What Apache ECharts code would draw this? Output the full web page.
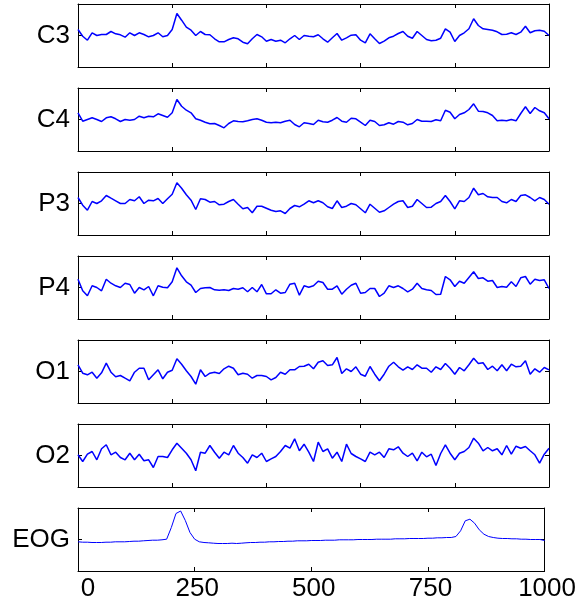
<!DOCTYPE html>
<html><head><meta charset="utf-8">
<script src="https://cdn.jsdelivr.net/npm/echarts@6/dist/echarts.min.js"></script>
<style>html,body{margin:0;padding:0;background:#fff}#c{width:579px;height:607px}</style>
</head><body><div id="c"></div>
<script>
const channels = ['C3', 'C4', 'P3', 'P4', 'O1', 'O2', 'EOG'];
const sampleStep = 10; // samples between stored readings
const eogTickLabels = [0, 250, 500, 750, 1000];

const c3 = [6,-0.7,-4.7,2.7,0,1,1,4,1.7,0.7, -1.7,2.7,0,2.7,1,-1.3,0,2.7,-1.3,0, 6,22,15.3,8.3,5.3,0,4,1,0.7,-3.3, -6.3,-6.3,-4,-2.3,-3.3,-6.7,-8.3,-3.3,1,-1.3, -5.7,-4,-5.7,-4.7,-7.3,-3.3,0,-4,0,-0.7, -1.3,0.7,
  -3.3,-6.7,-2.3,2,-4.7,-2.3,0.3,0.7,-4.7,-7.3, 1.7,-3.3,-8,-5.7,-2.3,-0.7,2,4,-0.7,-2.7, 4,0,-4,-5.3,-4.7,-2.7,6.7,3.3,-6,0, 2.7,6.7,16.7,10,6.7,6,5.3,3.7,1,1.3, 2.7,1,3.3,9.3,2.7,4.7,5.3,4.3,0];
const c4 = [6.7,-1.7,0,1.7,0,-2,1.7,2.7,0.7,-2, 0,-0.7,0,3.3,1.7,3.3,2.7,5.7,4,2.3, 6.7,20,13.3,9.3,6.7,0.7,-0.7,-2.7,-4.3,-4, -6,-8.3,-4,-1.3,-2,-2.3,-1.3,0,0.7,-0.7, -2.7,-3.3,-2.7,-3.3,-1.7,-0.7,-5,-7.3,-3.3,-4, -5,-0.7,
  -2.3,-2.7,-0.7,2,-1.7,-2.7,1.3,0.7,-2.7,-6, -0.7,-2,-6,-5.3,-3.3,-4.7,-2,-2.7,-5.3,-4, 0,-1.7,-1.7,-2,-0.3,-1.3,9.3,7.3,0.7,5, 6.7,10,15.7,8.3,8,6.7,4,-1.3,-0.7,-1.3, 0,-1.3,6,12.7,6,12,8.7,6.7,0.7];
const p3 = [6,-1.7,-6.7,2,0,2.7,8,5.3,2.7,0, 0,4,2.7,6.7,0,3.3,2.7,5,0,4.7, 9.3,20.7,15.3,8.7,3.3,-6,4.7,4,1.3,2, -1.3,-0.7,2,4,-0.7,-5.3,-4,-9.3,-2.7,-2.7, -4.7,-6.7,-8,-7.3,-10,-5,-2,-3.3,-0.7,2.7, 0.7,2.7,
  0.7,-3.3,-5,2.7,-4,-2.7,0,-1.3,-5.3,-9.3, -0.7,-4.7,-8.7,-7.3,-4,-0.7,2,2.7,-4,-2.7, 4,0,-4,-3.7,0,2,8,2,-5.3,2.7, 2,6,15.3,8.7,10,6.7,6,6,2,0.7, 4,2,8,8.7,6,2.7,6,4,-0.7];
const p4 = [8.3,-3.3,-8.3,1.7,0,-3.3,8.3,4.3,1.7,0, 4.3,3,-5.7,0,-2.3,1,-8.3,1.7,0.3,-0.3, 5.7,19.7,11.7,5.7,2.3,-5,-1,-0.3,0,-2.3, -2.7,-2.3,-3,-1,-1.7,-0.3,-4.3,0,-4.3,3, -6.3,-6.3,-2.3,-5.7,-5,3.3,4.3,-7.7,1.7,0.3, 1.7,6.3,
  5,-1.7,-1.7,1.7,-6.7,-1.7,2.3,4.3,-5.7,-5, -1,-1,-9,-5.7,1.7,0,1.7,-1,-4.3,-1.7, 4.3,-1,-2.3,-3,-7,-6.7,11,7.7,1,6.3, 4.3,10,15.7,9,9.7,6.3,7,0,1,0.3, 5.7,1,9.7,11,3.3,8.3,7,7.7,-1];
const o1 = [6.7,-1.7,-3.3,-0.7,-6.7,-1.3,8.3,-0.7,-5.3,-4, -6.7,-9.3,-0.7,3.3,3.3,-8.3,-3.3,1.7,-7.3,-0.7, 1.3,12.7,7.3,0.7,-5,-12.7,1.7,-5,-1.7,-0.7, -2,2.7,5.3,3.3,-3.3,-1.7,-2.7,-6.7,-4,-4, -5,-8.3,-6,-0.7,-2.7,1.7,1.7,5,5.3,7.3, 2.7,9.3,
  10.7,6,6.7,14,-2,2.7,0,4.7,-2.7,-4.7, 5,-2.7,-9.3,-2.7,5.3,9.3,4.7,1.3,4.7,2, 6.7,3.3,3.3,-0.7,4.7,2,8,3.3,-2.7,4, 0.7,6.7,13.3,8,8.7,2,5.3,0.7,6.7,0.7, 7.3,4.7,5.3,10.7,-2.7,2.7,-0.7,4,1.7];
const o2 = [0.7,-6,1.3,4,-4.3,6.7,10.7,0.7,3.3,-2, -4.3,2.3,-4.3,1.3,-5.3,-4.3,-12,-1,-1,-2, 5.7,12.3,7.3,2.3,-4.3,-15.3,3.3,2.3,10,3.3, -2.7,3.3,0.7,10,2.3,-2,-7.7,0.7,-2,2.3, -6,-3.3,-1,4,10,7.3,16.7,4.7,11.3,3.3,
  -6,13.3,4,6.7,-2.7,3.3,-6,11.3,2,-1, -3.3,-6,3.3,0.7,3.3,-2,6.7,5.7,8.7,2.3, -1,2.3,-5.3,3.3,-1.3,1.3,-10,2,10.7,2.3, -4.3,2.3,4,8,17.3,12.3,4.7,8,4.7,6.7, 0.7,10,1.3,9.3,7.3,9,4.7,0.7,-7.7,1.3, 7.3];
const eog = [-2.3,-2.7,-2.7,-3,-3,-3,-2.7,-2.7,-2.3,-2.3, -2.3,-2,-1.7,-1.7,-1.3,-1,-0.7,-0.7,-0.3,0.3, 12,26,28.5,19,7,0.3,-2.3,-3,-3.3,-3.7, -4,-4,-4,-3.7,-4,-3.7,-3.3,-3,-3,-2.7, -2.7,-2.3,-2.3,-2,-2,-1.7,-1.7,-1.3,-1.3,-1.3,
  -1,-1,-1,-0.7,-0.7,-0.7,-0.3,-0.3,-0.3,-0.3, 0,0,0,0,0.3,0.3,0.3,0.3,0.7,0.7, 0.7,1,1,1,1,1.3,1.3,1.7,1.7,2, 2,3,8.7,18.7,20.3,16.3,9.7,5.3,3,2, 1.3,1,1,0.7,0.7,0.3,0.3,0,0,0, -1];

const signals = [c3, c4, p3, p4, o1, o2, eog];

const chart = echarts.init(document.getElementById('c'), null, {renderer: 'canvas'});
const FONT = '"Liberation Sans", Arial, sans-serif';
const grids = [], xAxes = [], yAxes = [], series = [];
const TOP0 = 4, GAP = 84, H = 63;
const tick = {show: true, inside: true, length: 4, lineStyle: {color: '#000', width: 1}};
const line = {show: true, onZero: false, lineStyle: {color: '#000', width: 1}};
channels.forEach((name, i) => {
  const last = i === channels.length - 1;
  grids.push({left: 78, right: 30, top: TOP0 + GAP * i, height: H, show: false, containLabel: false});
  const interval = last ? 250 : 200;
  xAxes.push({gridIndex: i, type: 'value', min: 0, max: 1000, interval: interval, position: 'bottom',
    axisLine: line, axisTick: tick, splitLine: {show: false},
    axisLabel: {show: last, color: '#000', fontSize: 26, fontFamily: FONT, margin: 5,
      formatter: v => !eogTickLabels.includes(v) ? '' : (v === 0 ? '{z|0}' : '{a|' + v + '}'),
      rich: {
        a: {fontSize: 26, fontFamily: FONT, color: '#000', padding: [0, 0, 0, 5]},
        z: {fontSize: 26, fontFamily: FONT, color: '#000', padding: [0, 0, 0, 20]}
      }}});
  xAxes.push({gridIndex: i, type: 'value', min: 0, max: 1000, interval: interval, position: 'top',
    axisLine: line, axisTick: tick, splitLine: {show: false}, axisLabel: {show: false}});
  yAxes.push({gridIndex: i, type: 'value', min: -31.5, max: 31.5, interval: 31.5, position: 'left',
    axisLine: line, axisTick: tick, splitLine: {show: false},
    axisLabel: {color: '#000', fontSize: 26, fontFamily: FONT, margin: 8, padding: [4, 0, 0, 0],
      formatter: v => v === 0 ? name : ''}});
  yAxes.push({gridIndex: i, type: 'value', min: -31.5, max: 31.5, interval: 31.5, position: 'right',
    axisLine: line, axisTick: tick, splitLine: {show: false}, axisLabel: {show: false}});
  series.push({type: 'line', xAxisIndex: 2 * i, yAxisIndex: 2 * i,
    data: signals[i].map((v, k) => [k * sampleStep, v]),
    showSymbol: false, symbol: 'none', clip: true,
    lineStyle: {color: '#0000ff', width: last ? 1 : 1.5}});
});
chart.setOption({animation: false, backgroundColor: '#fff', grid: grids, xAxis: xAxes, yAxis: yAxes, series: series});
</script></body></html>
